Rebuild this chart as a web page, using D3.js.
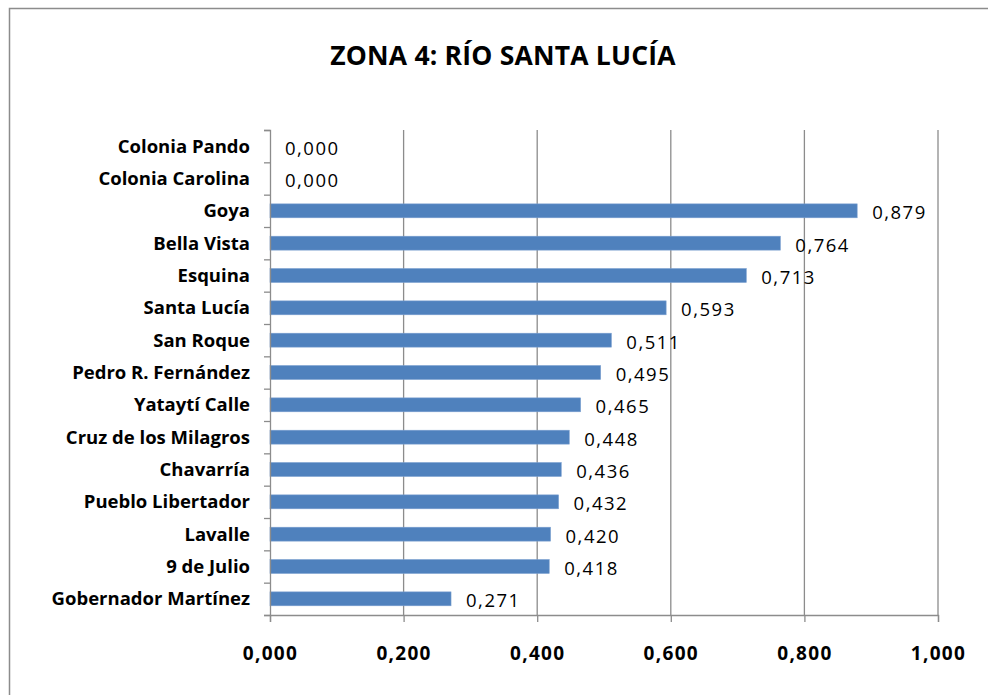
<!DOCTYPE html>
<html>
<head>
<meta charset="utf-8">
<script src="https://cdn.jsdelivr.net/npm/d3@7"></script>
<style>
  body { margin: 0; background: #fff; }
  svg { display: block; font-family: "Open Sans", Lato, sans-serif; }
</style>
</head>
<body>
<div id="chart"></div>
<script>
// data
var categories = ["Colonia Pando", "Colonia Carolina", "Goya", "Bella Vista", "Esquina",
  "Santa Lucía", "San Roque", "Pedro R. Fernández", "Yataytí Calle", "Cruz de los Milagros",
  "Chavarría", "Pueblo Libertador", "Lavalle", "9 de Julio", "Gobernador Martínez"];
var values = [0, 0, 0.879, 0.764, 0.713, 0.593, 0.511, 0.495, 0.465, 0.448, 0.436, 0.432, 0.420, 0.418, 0.271];
var xTicks = [0, 0.2, 0.4, 0.6, 0.8, 1.0];
var title = "ZONA 4: RÍO SANTA LUCÍA";

var width = 988, height = 695;
var margin = {top: 130, right: 50, bottom: 80, left: 270};

var svg = d3.select("#chart").append("svg")
    .attr("width", width)
    .attr("height", height);

// outer frame
svg.append("rect")
    .attr("x", 9.5).attr("y", 8.5)
    .attr("width", 1000).attr("height", 700)
    .attr("fill", "none")
    .attr("stroke", "#8c8c8c")
    .attr("stroke-width", 1.5);

var x = d3.scaleLinear().domain([0, 1]).range([margin.left, 938]);
var y = d3.scaleBand().domain(categories).range([margin.top, 615]).paddingInner(0.57).paddingOuter(0.285);

var fmt = function(v) { return d3.format(".3f")(v).replace(".", ","); };

// grid lines
svg.append("g")
    .selectAll("line")
    .data(xTicks.slice(1))
    .join("line")
    .attr("x1", d => x(d)).attr("x2", d => x(d))
    .attr("y1", margin.top).attr("y2", 615)
    .attr("stroke", "#8c8c8c")
    .attr("stroke-width", 1.3);

// bars
svg.append("g")
    .selectAll("rect")
    .data(values)
    .join("rect")
    .attr("x", x(0))
    .attr("y", (d, i) => y(categories[i]))
    .attr("width", d => x(d) - x(0))
    .attr("height", y.bandwidth())
    .attr("fill", "#4f81bd")
    .attr("stroke", "#7a9fcf")
    .attr("stroke-width", 0.6);

// x axis
var xAxis = svg.append("g")
    .attr("transform", "translate(0,615)")
    .call(d3.axisBottom(x).tickValues(xTicks).tickSize(7).tickFormat(fmt));
xAxis.select(".domain").attr("stroke", "#8c8c8c").attr("stroke-width", 1.3);
xAxis.selectAll(".tick line").attr("stroke", "#8c8c8c").attr("stroke-width", 1.3);
xAxis.selectAll("text")
    .attr("dy", 0)
    .attr("y", 45)
    .attr("font-size", 19)
    .attr("font-weight", "bold")
    .attr("letter-spacing", 1.3)
    .attr("font-family", "'Open Sans', sans-serif")
    .attr("fill", "#000");

// y axis with ticks between categories
var yLine = d3.scaleLinear().domain([0, categories.length]).range([margin.top, 615]);
var yAxis = svg.append("g")
    .attr("transform", "translate(" + margin.left + ",0)")
    .call(d3.axisLeft(yLine).ticks(categories.length).tickSize(6).tickFormat(""));
yAxis.select(".domain").attr("stroke", "#8c8c8c").attr("stroke-width", 1.3);
yAxis.selectAll(".tick line").attr("stroke", "#8c8c8c").attr("stroke-width", 1.3);

// category labels
svg.append("g")
    .selectAll("text")
    .data(categories)
    .join("text")
    .attr("x", 250)
    .attr("y", d => y(d) + y.bandwidth() / 2)
    .attr("dy", "0.35em")
    .attr("text-anchor", "end")
    .attr("font-size", 18.5)
    .attr("font-weight", "bold")
    .text(d => d);

// value labels
svg.append("g")
    .selectAll("text")
    .data(values)
    .join("text")
    .attr("x", d => x(d) + 15)
    .attr("y", (d, i) => y(categories[i]) + y.bandwidth() / 2 + 2)
    .attr("dy", "0.35em")
    .attr("font-size", 18.5)
    .attr("letter-spacing", 1.5)
    .text(d => fmt(d));

// title
svg.append("text")
    .attr("x", 503)
    .attr("y", 65)
    .attr("text-anchor", "middle")
    .attr("font-size", 26.5)
    .attr("font-weight", "bold")
    .attr("letter-spacing", 0.2)
    .text(title);
</script>
</body>
</html>
